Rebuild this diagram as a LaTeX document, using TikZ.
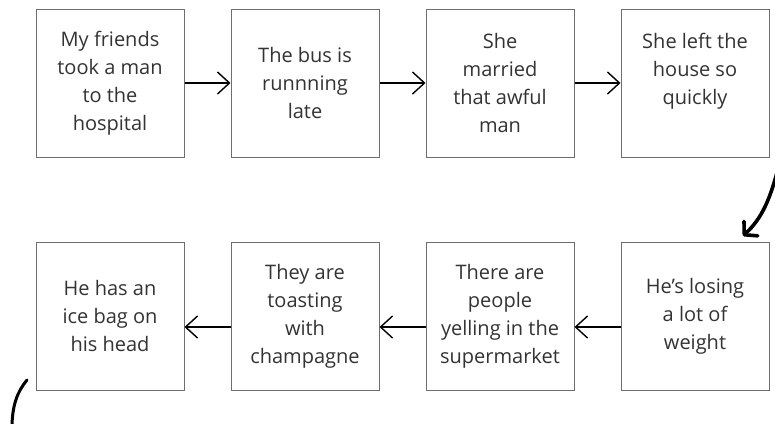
\documentclass[tikz,border=0pt]{standalone}
\usepackage{fontspec}
\setmainfont{Open Sans}
\usepackage{tikz}
\usetikzlibrary{arrows.meta}
\definecolor{ink}{HTML}{333333}
\definecolor{edge}{HTML}{6E6E6E}
\tikzset{card/.style={draw=edge,line width=1pt,minimum width=148pt,minimum height=148pt,inner sep=0pt,align=center,text=ink,font=\fontsize{20}{28}\selectfont},
flow/.style={line width=1.4pt,-{Straight Barb[length=12pt,width=22pt]}},
swoop/.style={line width=3.6pt,line cap=round}}

\begin{document}
\begin{tikzpicture}[x=1pt,y=-1pt]
\useasboundingbox (0,0) rectangle (775,423);
\node[card] (friends) at (110,83) {My friends\\took a man\\to the\\hospital};
\node[card] (bus) at (305,83) {The bus is\\runnning\\late};
\node[card] (married) at (500,83) {She\\married\\that awful\\man};
\node[card] (house) at (695,83) {She left the\\house so\\quickly\\\mbox{}};
\node[card] (weight) at (695,316) {He’s losing\\a lot of\\weight};
\node[card] (market) at (500,316) {There are\\people\\yelling in the\\supermarket};
\node[card] (toast) at (305,316) {They are\\toasting\\with\\champagne};
\node[card] (icebag) at (110,316) {He has an\\ice bag on\\his head};
\draw[flow] (friends) -- (bus); \draw[flow] (bus) -- (married); \draw[flow] (married) -- (house);
\draw[flow] ([yshift=-11pt]weight.west) -- ([yshift=-11pt]market.east);
\draw[flow] ([yshift=-11pt]market.west) -- ([yshift=-11pt]toast.east);
\draw[flow] ([yshift=-11pt]toast.west) -- ([yshift=-11pt]icebag.east);
% hand drawn bits
\coordinate (topend) at (779,165); \coordinate (tip) at (743,236);
\draw[swoop,-{Straight Barb[length=9pt,width=20pt,round]}] (topend) .. controls (770,200) and (762,218) .. (tip);
\coordinate (arcstart) at (27,380); \coordinate (arcend) at (12,428);
\draw[swoop,line width=3pt] (arcstart) .. controls (17,392) and (12,406) .. (arcend);
\end{tikzpicture}
\end{document}
